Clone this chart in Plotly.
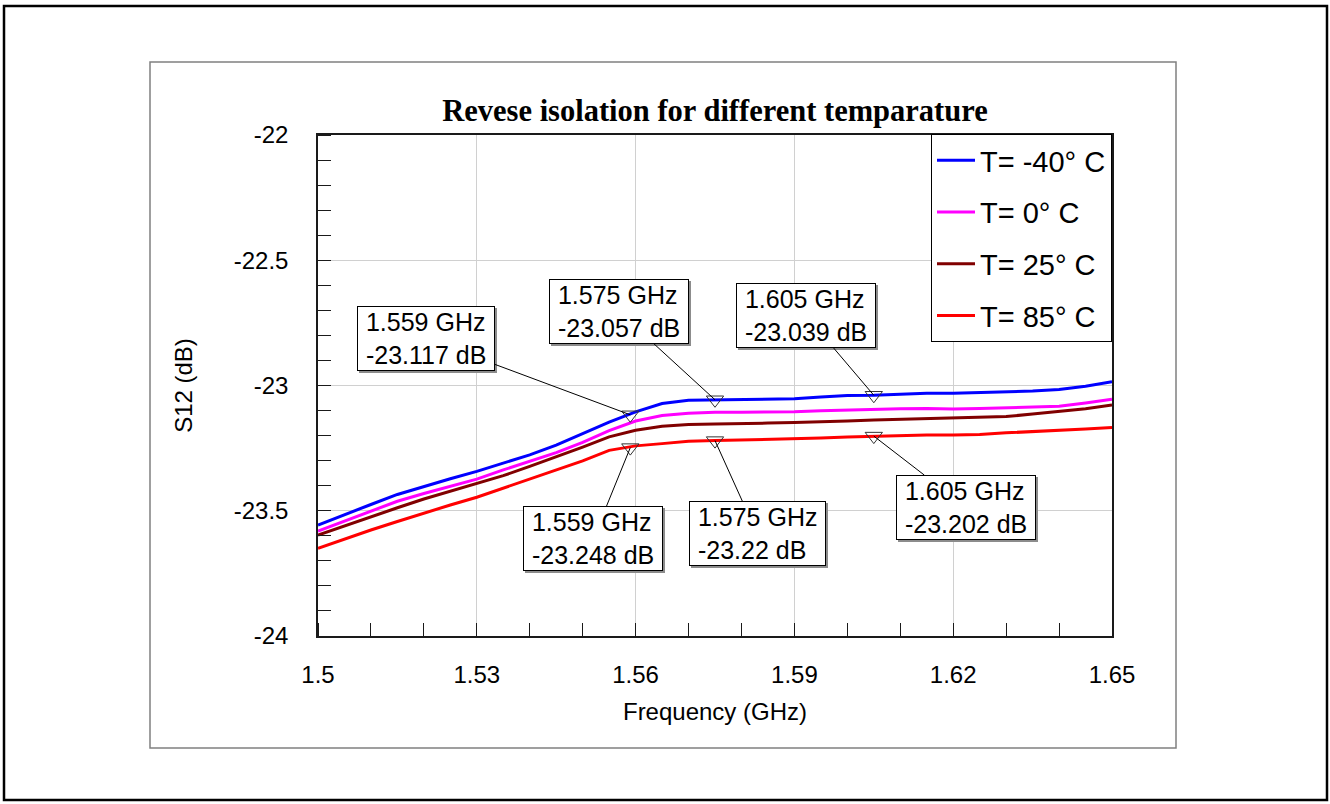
import plotly.graph_objects as go

# ---------------- data ----------------
freq_ghz = [1.500, 1.505, 1.510, 1.515, 1.520, 1.525, 1.530, 1.535, 1.540, 1.545,
            1.550, 1.555, 1.560, 1.565, 1.570, 1.575, 1.580, 1.585, 1.590, 1.595,
            1.600, 1.605, 1.610, 1.615, 1.620, 1.625, 1.630, 1.635, 1.640, 1.645, 1.650]

s12_m40 = [-23.557, -23.515, -23.475, -23.435, -23.403, -23.372, -23.343, -23.310, -23.277, -23.238,
           -23.193, -23.146, -23.105, -23.072, -23.059, -23.057, -23.057, -23.055, -23.053, -23.046,
           -23.040, -23.039, -23.034, -23.031, -23.031, -23.029, -23.026, -23.022, -23.016, -23.003, -22.985]

s12_0 = [-23.581, -23.541, -23.501, -23.462, -23.431, -23.402, -23.374, -23.337, -23.303, -23.268,
         -23.227, -23.180, -23.142, -23.120, -23.111, -23.107, -23.107, -23.107, -23.105, -23.101,
         -23.098, -23.095, -23.093, -23.092, -23.094, -23.092, -23.089, -23.087, -23.083, -23.070, -23.055]

s12_25 = [-23.597, -23.560, -23.522, -23.488, -23.453, -23.422, -23.392, -23.360, -23.323, -23.285,
          -23.246, -23.205, -23.179, -23.163, -23.156, -23.154, -23.153, -23.150, -23.148, -23.146,
          -23.142, -23.138, -23.135, -23.133, -23.131, -23.128, -23.124, -23.114, -23.104, -23.093, -23.078]

s12_85 = [-23.650, -23.613, -23.577, -23.543, -23.509, -23.477, -23.446, -23.410, -23.373, -23.337,
          -23.301, -23.259, -23.241, -23.232, -23.223, -23.220, -23.218, -23.216, -23.213, -23.210,
          -23.206, -23.203, -23.201, -23.198, -23.198, -23.196, -23.189, -23.185, -23.180, -23.174, -23.168]

series_names = ["T= -40° C", "T= 0° C", "T= 25° C", "T= 85° C"]

marker_freq = [1.559, 1.575, 1.605, 1.559, 1.575, 1.605]
marker_vals = [-23.117, -23.057, -23.039, -23.248, -23.22, -23.202]

x_tickvals = [1.50, 1.53, 1.56, 1.59, 1.62, 1.65]
x_ticktext = ["1.5", "1.53", "1.56", "1.59", "1.62", "1.65"]
y_tickvals = [-24, -23.5, -23, -22.5, -22]
y_ticktext = ["-24", "-23.5", "-23", "-22.5", "-22"]

# ---------------- styles / positions ----------------
series_colors = ["#0000ff", "#ff00ff", "#800000", "#ff0000"]
label_offsets = [(-204, -76), (-96, -88), (-68, -80), (-37, 91), (42, 93), (92, 71)]

SANS = "Liberation Sans, Arial, sans-serif"
SERIF = "Liberation Serif, Times New Roman, serif"

fig = go.Figure()

for i, (name, vals) in enumerate(zip(series_names, [s12_m40, s12_0, s12_25, s12_85])):
    fig.add_trace(go.Scatter(
        x=freq_ghz, y=vals, mode="lines", name=name,
        line=dict(color=series_colors[i], width=3),
        legendgroup=f"g{i}",
    ))

fig.add_trace(go.Scatter(
    x=marker_freq, y=marker_vals, mode="markers", showlegend=False,
    marker=dict(symbol="triangle-down-open", size=15, color="#333333",
                line=dict(width=1, color="#333333")),
    hoverinfo="skip",
))

# marker labels: gray shadow first, then the boxed label with leader line
NB = "&nbsp;"
for f, v, (ax, ay) in zip(marker_freq, marker_vals, label_offsets):
    txt = f"{NB}{f} GHz{NB}<br>{NB}{v} dB{NB}"
    fig.add_annotation(
        x=f, y=v, ax=ax + 2, ay=ay + 2, text=txt, align="left",
        showarrow=True, arrowcolor="rgba(0,0,0,0)", arrowwidth=0.1, arrowhead=0,
        font=dict(family=SANS, size=25, color="#8c8c8c"),
        bgcolor="#8c8c8c", bordercolor="#8c8c8c", borderwidth=1, borderpad=1,
    )
    fig.add_annotation(
        x=f, y=v, ax=ax, ay=ay, text=txt, align="left",
        showarrow=True, arrowcolor="black", arrowwidth=1, arrowhead=0, standoff=0,
        font=dict(family=SANS, size=25, color="black"),
        bgcolor="white", bordercolor="black", borderwidth=1, borderpad=1,
    )

# plot geometry (pixels): plot area x 318..1112, y 135..636
PW, PH = 794.0, 501.0
def px(x):
    return (x - 318) / PW
def py(y):
    return (636 - y) / PH

fig.add_shape(type="rect", xref="paper", yref="paper", layer="below",
              x0=px(150), x1=px(1176), y0=py(748), y1=py(62),
              line=dict(color="#808080", width=1.5))
fig.add_shape(type="rect", xref="paper", yref="paper", layer="below",
              x0=px(4), x1=px(1327), y0=py(800), y1=py(6),
              line=dict(color="black", width=2.5))

axis_common = dict(
    showline=True, mirror=True, linecolor="#1a1a1a", linewidth=1.5,
    showgrid=True, gridcolor="#d0d0d0", gridwidth=1,
    zeroline=False, ticks="",
    tickfont=dict(family=SANS, size=24, color="black"),
)

fig.update_xaxes(
    range=[1.5, 1.65], tickmode="array", tickvals=x_tickvals, ticktext=x_ticktext,
    ticklabelstandoff=16,
    minor=dict(tickmode="linear", tick0=1.5, dtick=0.01, ticks="inside", ticklen=13,
               tickcolor="#1a1a1a", tickwidth=1, showgrid=False),
    title=dict(text="Frequency (GHz)", font=dict(family=SANS, size=24, color="black"),
               standoff=17),
    **axis_common,
)
fig.update_yaxes(
    range=[-24, -22], tickmode="array", tickvals=y_tickvals, ticktext=y_ticktext,
    ticklabelstandoff=23,
    minor=dict(tickmode="linear", tick0=-24, dtick=0.1, ticks="inside", ticklen=13,
               tickcolor="#1a1a1a", tickwidth=1, showgrid=False),
    title=dict(text="S12 (dB)", font=dict(family=SANS, size=24, color="black"),
               standoff=34),
    **axis_common,
)

fig.update_layout(
    width=1330, height=804,
    margin=dict(l=318, r=218, t=135, b=168, autoexpand=False),
    paper_bgcolor="white", plot_bgcolor="white",
    title=dict(text="<b>Revese isolation for different temparature</b>",
               font=dict(family=SERIF, size=30.5, color="black"),
               x=0.5, xref="paper", xanchor="center",
               y=1 - 110 / 804, yref="container", yanchor="middle"),
    legend=dict(x=1, y=1.002, xanchor="right", yanchor="top",
                font=dict(family=SANS, size=29, color="black"),
                bgcolor="white", bordercolor="black", borderwidth=1,
                traceorder="grouped", tracegroupgap=11, itemwidth=38),
    showlegend=True,
)

fig.write_html("out.html", config={"displayModeBar": False},
               post_script="document.body.style.margin='0px';")
